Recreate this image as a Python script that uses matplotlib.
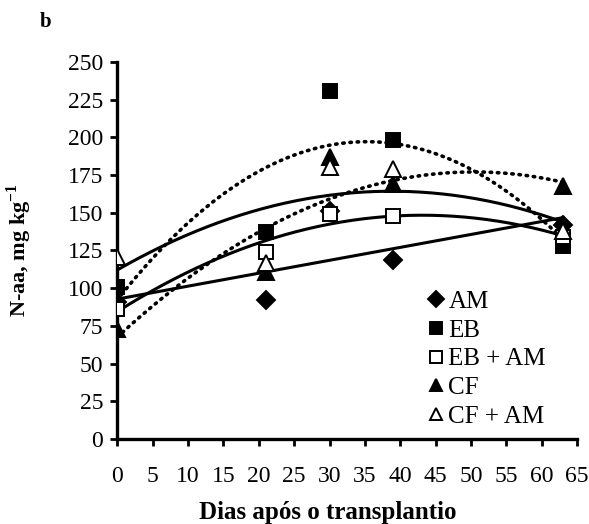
"""
N-aa ao longo dos dias apos o transplantio
Generates: out.png
"""
import matplotlib
matplotlib.use("Agg")
import matplotlib.pyplot as plt
import numpy as np

DAYS = [0, 21, 30, 39, 63]
AM = [91, 92, 151, 119, 142]
EB = [101, 137, 231, 198, 128]
EB_AM = [86, 124, 149, 148, 134]
CF = [73, 111, 187, 169, 168]
CF_AM = [121, 117, 180, 179, 138]

SERIES = [
    # label, values, marker, face, fit degree, line style
    ("AM", AM, "D", "black", 1, "-"),
    ("EB", EB, "s", "black", 2, ":"),
    ("EB + AM", EB_AM, "s", "white", 2, "-"),
    ("CF", CF, "^", "black", 2, ":"),
    ("CF + AM", CF_AM, "^", "white", 2, "-"),
]
MARKER_SIZE = {"D": 9, "s": 10, "^": 11}

plt.rcParams["font.family"] = ["Liberation Serif", "DejaVu Serif"]
plt.rcParams["mathtext.fontset"] = "custom"
plt.rcParams["mathtext.rm"] = "Liberation Serif"
plt.rcParams["mathtext.bf"] = "Liberation Serif:bold"

fig = plt.figure(figsize=(5.89, 5.24), dpi=100)
ax = fig.add_axes([0.199, 0.162, 0.781, 0.72])

x = np.array(DAYS, dtype=float)
xs = np.linspace(0, 63, 200)

# trend lines first so markers sit on top
for label, vals, marker, face, deg, ls in SERIES:
    coef = np.polyfit(x, np.array(vals, dtype=float), deg)
    if ls == ":":
        ax.plot(xs, np.polyval(coef, xs), color="black", lw=2.6,
                linestyle=(0, (0.4, 1.6)), dash_capstyle="round", zorder=2)
    else:
        ax.plot(xs, np.polyval(coef, xs), color="black", lw=2.2, zorder=2)

handles = []
for label, vals, marker, face, deg, ls in SERIES:
    h, = ax.plot(x, vals, linestyle="none", marker=marker, ms=MARKER_SIZE[marker],
                 mfc=face, mec="black", mew=1.4, label=label, zorder=3)
    handles.append(h)

ax.set_xlim(0, 65)
ax.set_ylim(0, 250)
ax.set_xticks(np.arange(0, 66, 5))
ax.set_yticks(np.arange(0, 251, 25))
ax.tick_params(direction="out", length=5, width=2, labelsize=17)
ax.tick_params(axis="y", pad=5)
ax.tick_params(axis="x", pad=14)
for side in ("top", "right"):
    ax.spines[side].set_visible(False)
for side in ("left", "bottom"):
    ax.spines[side].set_linewidth(2.4)
ax.spines["left"].set_position(("data", 0))
ax.spines["bottom"].set_position(("data", 0))

ax.set_xlabel("Dias após o transplantio", fontsize=18, fontweight="bold")
ax.set_ylabel(r"N-aa, mg kg$^{\mathbf{-1}}$", fontsize=16, fontweight="bold")
ax.xaxis.set_label_coords(0.457, -0.165)
ax.yaxis.set_label_coords(-0.18, 0.5)

ax.legend(handles=handles, loc="lower right", bbox_to_anchor=(0.965, -0.01),
          frameon=False, fontsize=18, handlelength=0.7, handletextpad=0.15,
          labelspacing=0.25, borderaxespad=0.2, markerscale=0.85)

fig.text(0.068, 0.958, "b", fontsize=15, fontweight="bold", va="center")

fig.savefig("out.png", dpi=100, facecolor="white")
